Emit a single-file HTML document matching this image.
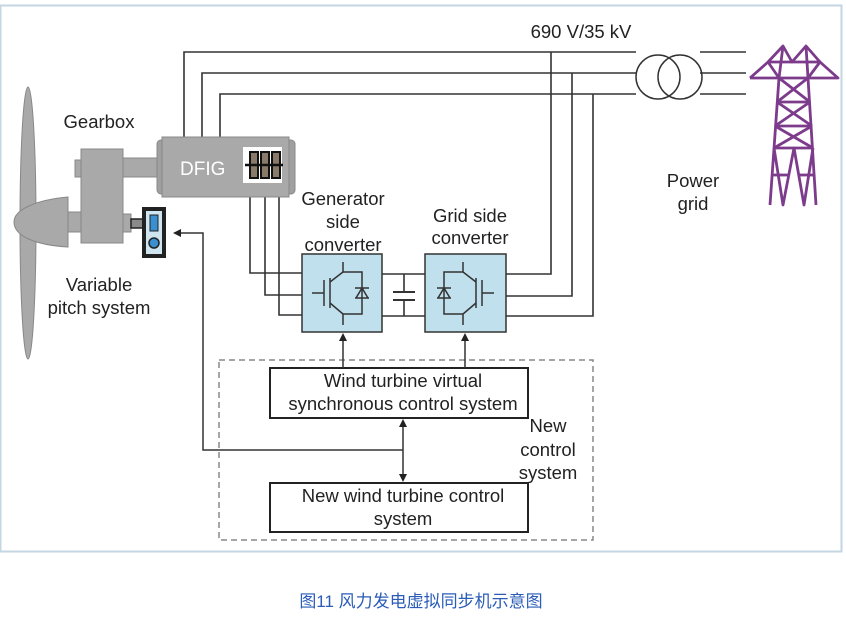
<!DOCTYPE html>
<html><head><meta charset="utf-8"><style>
html,body{margin:0;padding:0;background:#fff;}
body{width:846px;height:618px;position:relative;overflow:hidden;font-family:"Liberation Sans",sans-serif;}
</style></head><body>
<svg width="846" height="618" viewBox="0 0 846 618" xmlns="http://www.w3.org/2000/svg" style="position:absolute;left:0;top:0">
<rect x="0.5" y="5.5" width="841" height="546" fill="#fff" stroke="#c5d6e3" stroke-width="2"/>
<g fill="none" stroke="#333" stroke-width="1.6">
<polyline points="184,137 184,52 636,52"/>
<polyline points="202,137 202,73 636,73"/>
<polyline points="220,137 220,94 636,94"/>
<line x1="700" y1="52" x2="746" y2="52"/>
<line x1="700" y1="73" x2="746" y2="73"/>
<line x1="700" y1="94" x2="746" y2="94"/>
<polyline points="506,274 551,274 551,52"/>
<polyline points="506,296 572,296 572,73"/>
<polyline points="506,316 593,316 593,94"/>
<polyline points="250,180 250,273 302,273"/>
<polyline points="265,180 265,295 302,295"/>
<polyline points="279,180 279,315 302,315"/>
<line x1="382" y1="274" x2="425" y2="274"/>
<line x1="382" y1="316" x2="425" y2="316"/>
<line x1="404" y1="274" x2="404" y2="292"/>
<line x1="404" y1="300" x2="404" y2="316"/>
<line x1="393" y1="292" x2="415" y2="292" stroke-width="2"/>
<line x1="393" y1="300" x2="415" y2="300" stroke-width="2"/>
</g>
<circle cx="658" cy="77" r="22" fill="none" stroke="#333" stroke-width="1.5"/>
<circle cx="680" cy="77" r="22" fill="none" stroke="#333" stroke-width="1.5"/>
<g fill="none" stroke="#7d3b8c" stroke-width="2.8" stroke-linejoin="round">
<polyline points="750,78 768,62 820,62 838,78 750,78"/>
<polyline points="768,62 783,46 792,62 806,46 820,62"/>
<line x1="783" y1="46" x2="779" y2="78"/><line x1="806" y1="46" x2="808" y2="78"/>
<polyline points="768,62 779,78"/><polyline points="820,62 808,78"/>
<polyline points="779,78 770,205"/><polyline points="808,78 816,205"/>
<line x1="777" y1="102" x2="810" y2="102"/>
<line x1="775" y1="126" x2="812" y2="126"/>
<line x1="774" y1="148" x2="813" y2="148"/>
<line x1="779" y1="78" x2="810" y2="102"/><line x1="808" y1="78" x2="777" y2="102"/>
<line x1="777" y1="102" x2="812" y2="126"/><line x1="810" y1="102" x2="775" y2="126"/>
<line x1="775" y1="126" x2="813" y2="148"/><line x1="812" y1="126" x2="774" y2="148"/>
<polyline points="774,148 783,205 794,148 804,205 813,148"/>
<line x1="772" y1="175" x2="788" y2="175"/><line x1="800" y1="175" x2="815" y2="175"/>
</g>
<ellipse cx="28" cy="223" rx="8" ry="136" fill="#a9a9a9" stroke="#888"/>
<path d="M68,197 C35,200 14,210 14,222 C14,236 35,245 68,247 Z" fill="#a9a9a9" stroke="#888"/>
<rect x="68" y="212" width="14" height="20" fill="#a9a9a9" stroke="#888"/>
<rect x="75" y="160" width="7" height="17" fill="#a9a9a9" stroke="#888"/>
<rect x="81" y="149" width="42" height="94" fill="#a9a9a9" stroke="#888"/>
<rect x="123" y="158" width="36" height="19" fill="#a9a9a9" stroke="#888"/>
<rect x="123" y="214" width="8" height="18" fill="#a9a9a9" stroke="#888"/>
<rect x="131" y="219" width="12" height="9" fill="#8a8a8a" stroke="#222" stroke-width="1.5"/>
<rect x="142" y="207" width="24" height="51" fill="#222"/>
<rect x="146" y="211" width="16" height="43" fill="#cfe6f0"/>
<rect x="150" y="215" width="8" height="16" fill="#3a8fd0" stroke="#222"/>
<circle cx="154" cy="243" r="5" fill="#3a8fd0" stroke="#222" stroke-width="1.5"/>
<rect x="157" y="140" width="138" height="54" rx="4" fill="#a0a0a0" stroke="#888"/>
<rect x="162" y="137" width="127" height="60" fill="#a9a9a9" stroke="#888"/>
<text x="180" y="175" font-size="19" fill="#fff" font-family="Liberation Sans,sans-serif">DFIG</text>
<rect x="243" y="147" width="39" height="36" fill="#fff"/>
<g fill="#8a7a6a" stroke="#111" stroke-width="2">
<rect x="250" y="152" width="8" height="26"/><rect x="261" y="152" width="8" height="26"/><rect x="272" y="152" width="8" height="26"/>
</g>
<line x1="245" y1="165" x2="283" y2="165" stroke="#111" stroke-width="2.5"/>
<rect x="302" y="254" width="80" height="78" fill="#bfe0ec" stroke="#333" stroke-width="1.5"/>
<rect x="425" y="254" width="81" height="78" fill="#bfe0ec" stroke="#333" stroke-width="1.5"/>
<g fill="none" stroke="#333" stroke-width="1.5">
<line x1="312" y1="293" x2="324" y2="293"/><line x1="324" y1="280" x2="324" y2="306"/>
<line x1="330" y1="278" x2="330" y2="308"/>
<polyline points="343,262 343,272 330,282"/><polyline points="330,303 343,314 343,325"/>
<polyline points="343,272 362,272 362,314 343,314"/>
<path d="M355,298 L369,298 M356,298 L362,288 L368,298 M355,288 L369,288"/>
<line x1="494" y1="293" x2="482" y2="293"/><line x1="482" y1="280" x2="482" y2="306"/>
<line x1="476" y1="278" x2="476" y2="308"/>
<polyline points="463,262 463,272 476,282"/><polyline points="476,303 463,314 463,325"/>
<polyline points="463,272 444,272 444,314 463,314"/>
<path d="M437,288 L451,288 M438,298 L444,288 L450,298 M437,298 L451,298"/>
</g>
<rect x="219" y="360" width="374" height="180" fill="none" stroke="#888" stroke-width="1.5" stroke-dasharray="6,4"/>
<rect x="270" y="368" width="258" height="50" fill="#fff" stroke="#222" stroke-width="2"/>
<rect x="270" y="483" width="258" height="49" fill="#fff" stroke="#222" stroke-width="2"/>
<g stroke="#333" stroke-width="1.5" fill="none">
<line x1="343" y1="368" x2="343" y2="338"/><line x1="465" y1="368" x2="465" y2="338"/>
<line x1="403" y1="424" x2="403" y2="477"/>
<polyline points="403,450 203,450 203,233 178,233"/>
</g>
<g fill="#222">
<path d="M343,333 L339,341 L347,341Z"/><path d="M465,333 L461,341 L469,341Z"/>
<path d="M403,419 L399,427 L407,427Z"/><path d="M403,482 L399,474 L407,474Z"/>
<path d="M173,233 L181,229 L181,237Z"/>
</g>
<g font-family="Liberation Sans,sans-serif" font-size="18.5" fill="#222" text-anchor="middle">
<text x="99" y="128">Gearbox</text>
<text x="99" y="291">Variable</text><text x="99" y="314">pitch system</text>
<text x="343" y="205">Generator</text><text x="343" y="228">side</text><text x="343" y="251">converter</text>
<text x="470" y="222">Grid side</text><text x="470" y="244">converter</text>
<text x="581" y="38">690 V/35 kV</text>
<text x="693" y="187">Power</text><text x="693" y="210">grid</text>
<text x="403" y="387">Wind turbine virtual</text><text x="403" y="410">synchronous control system</text>
<text x="548" y="432">New</text><text x="548" y="456">control</text><text x="548" y="479">system</text>
<text x="403" y="502">New wind turbine control</text><text x="403" y="525">system</text>
</g>
<text x="421" y="607" text-anchor="middle" font-size="17" fill="#2a5cb8" font-family="Liberation Sans,Noto Sans CJK SC,sans-serif">图11  风力发电虚拟同步机示意图</text>
</svg>
</body></html>
